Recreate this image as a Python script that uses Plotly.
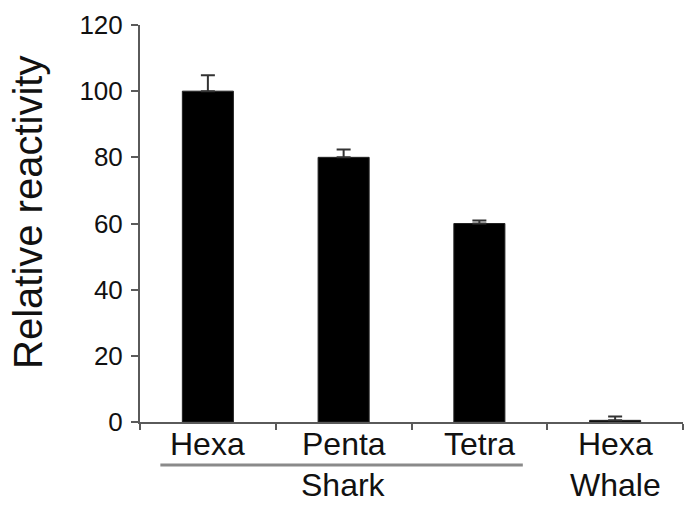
import plotly.graph_objects as go

# ---- data ----
categories = ["Shark Hexa", "Shark Penta", "Shark Tetra", "Whale Hexa"]
tick_labels = ["Hexa", "Penta", "Tetra", "Hexa"]
reactivity = [100, 80, 60, 0.5]
error_plus = [4.8, 2.4, 0.9, 1.2]
group_labels = ["Shark", "Whale"]
group_label_at = [categories[1], categories[3]]
y_title = "Relative reactivity"
y_ticks = [0, 20, 40, 60, 80, 100, 120]

FONT = "Liberation Sans, Arial, Helvetica, sans-serif"
AXIS_COLOR = "#5a5a5a"
TEXT_COLOR = "#111111"

W, H = 686, 508
M_L, M_R, M_T, M_B = 140, 3, 25, 86
plot_h = H - M_T - M_B
plot_w = W - M_L - M_R

def py(pixel_y):
    """convert a pixel row (from top of page) into paper coordinate"""
    return (H - M_B - pixel_y) / plot_h

fig = go.Figure()
fig.add_trace(go.Bar(
    x=categories,
    y=reactivity,
    marker=dict(color="#000000", line=dict(color="#222222", width=1)),
    error_y=dict(type="data", symmetric=False, array=error_plus,
                 arrayminus=[0] * len(error_plus),
                 color="#333333", thickness=2, width=7),
    showlegend=False,
))

fig.update_layout(
    width=W, height=H,
    margin=dict(l=M_L, r=M_R, t=M_T, b=M_B, pad=0, autoexpand=False),
    paper_bgcolor="white", plot_bgcolor="white",
    font=dict(family=FONT, color=TEXT_COLOR),
    bargap=0.624,
    xaxis=dict(
        type="category",
        range=[-0.5, 3.5],
        tickmode="array", tickvals=categories, ticktext=tick_labels,
        showticklabels=False,
        tickson="boundaries", ticks="outside", ticklen=6, tickwidth=2,
        tickcolor=AXIS_COLOR,
        showline=True, linecolor=AXIS_COLOR, linewidth=2,
        showgrid=False, zeroline=False, automargin=False,
        fixedrange=True,
    ),
    yaxis=dict(
        range=[0, 120],
        tickmode="array", tickvals=y_ticks,
        ticks="outside", ticklen=7, tickwidth=2, tickcolor=AXIS_COLOR,
        ticklabelstandoff=3,
        showline=True, linecolor=AXIS_COLOR, linewidth=2,
        showgrid=False, zeroline=False, automargin=False,
        tickfont=dict(size=26, family=FONT, color=TEXT_COLOR),
        fixedrange=True,
    ),
)

# category labels under the axis
for cat, lab in zip(categories, tick_labels):
    fig.add_annotation(
        text=lab, xref="x", yref="paper", x=cat, y=py(444),
        xanchor="center", yanchor="middle", showarrow=False,
        font=dict(size=32, family=FONT, color=TEXT_COLOR),
    )

# group labels (second row)
for cat, lab in zip(group_label_at, group_labels):
    fig.add_annotation(
        text=lab, xref="x", yref="paper", x=cat, y=py(485),
        xanchor="center", yanchor="middle", showarrow=False,
        font=dict(size=32, family=FONT, color=TEXT_COLOR),
    )

# y-axis title as rotated annotation
fig.add_annotation(
    text=y_title, xref="paper", yref="paper",
    x=-(M_L - 28) / plot_w, y=py(213),
    xanchor="center", yanchor="middle", textangle=-90,
    showarrow=False, font=dict(size=40, family=FONT, color=TEXT_COLOR),
)

# group underline under the shark categories
fig.add_shape(
    type="line", xref="x", yref="paper",
    x0=-0.35, x1=2.32, y0=py(465), y1=py(465),
    line=dict(color="#8a8a8a", width=3),
)

fig.write_html(
    "out.html",
    config={"displayModeBar": False, "staticPlot": True},
    post_script="document.body.style.margin='0';document.body.style.padding='0';",
)
